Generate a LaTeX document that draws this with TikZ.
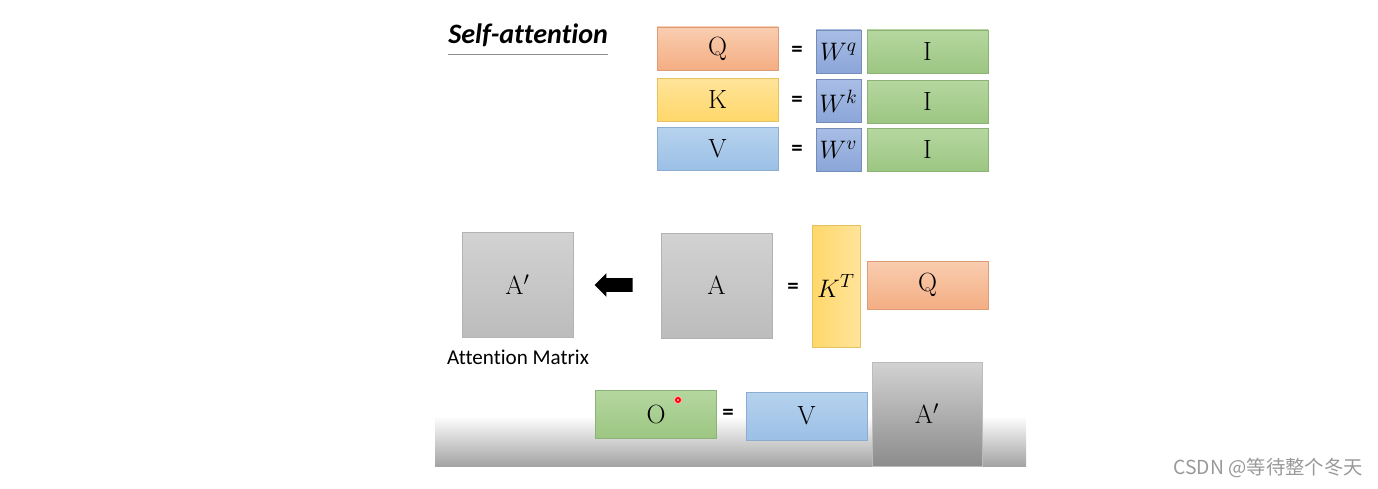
\documentclass[tikz,border=0pt]{standalone}
\usepackage{fontspec}
\newfontfamily\calibri[Ligatures=NoCommon]{Carlito}
\newfontfamily\cjk{Noto Sans CJK SC}
\usetikzlibrary{shapes.arrows}
\definecolor{qtop}{HTML}{F9CDB0}
\definecolor{qbot}{HTML}{F4AE83}
\definecolor{ktop}{HTML}{FFE49A}
\definecolor{kbot}{HTML}{FFD76A}
\definecolor{vtop}{HTML}{B6D2EE}
\definecolor{vbot}{HTML}{9BC0E6}
\definecolor{wtop}{HTML}{A9BEE6}
\definecolor{wbot}{HTML}{8AA5D8}
\definecolor{itop}{HTML}{B5D7A0}
\definecolor{ibot}{HTML}{9CC682}
\definecolor{atop}{HTML}{D2D2D2}
\definecolor{abot}{HTML}{BCBCBC}
\begin{document}
\begin{tikzpicture}[x=0.02cm,y=-0.02cm]
        \tikzstyle{mat}=[inner sep=0pt,font=\fontsize{15}{18}\selectfont,line width=0.5pt]
        \tikzstyle{wide}=[mat,minimum width=2.42cm,minimum height=0.86cm]
        \tikzstyle{wmat}=[mat,minimum width=0.9cm,minimum height=0.86cm,top color=wtop,bottom color=wbot,draw=wbot!85!black]
        \tikzstyle{sq}=[mat,minimum width=2.22cm,minimum height=2.1cm,top color=atop,bottom color=abot,draw=abot!95!black]
        \tikzstyle{eq}=[font=\calibri\bfseries\fontsize{13}{15}\selectfont,inner sep=0pt]
        \tikzstyle{qbox}=[top color=qtop,bottom color=qbot,draw=qbot!90!black]
        \tikzstyle{kbox}=[top color=ktop,bottom color=kbot,draw=kbot!90!black]
        \tikzstyle{vbox}=[top color=vtop,bottom color=vbot,draw=vbot!90!black]
        \tikzstyle{ibox}=[top color=itop,bottom color=ibot,draw=ibot!90!black]
        \useasboundingbox (0,0) rectangle (1378,489);
        % slide floor
        \shade[top color=white,bottom color=black!36] (435,416) rectangle (1026,466);
        % title
        \node [font=\calibri\bfseries\itshape\fontsize{16}{19}\selectfont,inner sep=0pt,anchor=base west] (title) at (448,44) {Self-attention};
        \draw [black!45,line width=1pt] ([yshift=-6pt]title.base west) -- ([yshift=-6pt]title.base east);
        % Q, K, V
        \node [wide,qbox] (q) at (717.5,48.5) {Q};
        \node [wide,kbox] (k) at (717.5,99.5) {K};
        \node [wide,vbox] (v) at (717.5,149) {V};
        \node [eq] (eq1) at (797,51) {=};
        \node [eq] (eq2) at (797,101) {=};
        \node [eq] (eq3) at (797,150) {=};
        \node [wmat] (wq) at (838.5,51.5) {$W^q$};
        \node [wmat] (wk) at (838.5,101) {$W^k$};
        \node [wmat] (wv) at (838.5,149.5) {$W^v$};
        \node [wide,ibox] (i1) at (927.5,51.5) {I};
        \node [wide,ibox] (i2) at (927.5,101.5) {I};
        \node [wide,ibox] (i3) at (927.5,150) {I};
        % attention matrix
        \node [sq] (ap) at (517.5,285) {A$'$};
        \node [font=\calibri\fontsize{12}{14}\selectfont,inner sep=0pt] (caption) at (518,357) {Attention Matrix};
        \node [single arrow,fill=black,inner xsep=0pt,inner ysep=0.13cm,minimum height=0.76cm,single arrow head extend=0.1cm,single arrow head indent=0cm,shape border rotate=180] (larrow) at (617,285) {};
        \node [sq] (a) at (716.5,285.5) {A};
        \node [eq] (eq4) at (793,288) {=};
        \node [mat,minimum width=0.96cm,minimum height=2.44cm,left color=kbot,right color=ktop,draw=kbot!90!black] (kt) at (836,286) {$K^T$};
        \node [mat,qbox,minimum width=2.42cm,minimum height=0.96cm] (q2) at (927.5,285) {Q};
        % output
        \node [mat,ibox,minimum width=2.42cm,minimum height=0.96cm] (o) at (656,414) {O};
        \fill [red!30] (678,400) circle (4.2);
        \fill [red] (678,400) circle (3);
        \fill [red!25] (678,400) circle (1.2);
        \node [eq] (eq5) at (728,414) {=};
        \node [mat,vbox,minimum width=2.42cm,minimum height=0.96cm] (v2) at (806.5,416) {V};
        \begin{scope}
                \clip (860,355) rectangle (1000,466);
                \node [mat,minimum width=2.2cm,minimum height=2.08cm,top color=atop,bottom color=black!45,draw=abot] (ap2) at (927,414) {};
        \end{scope}
        \node [font=\fontsize{15}{18}\selectfont,inner sep=0pt] (ap2lbl) at (927,414) {A$'$};
        % watermark
        \node [font=\cjk\fontsize{11}{13}\selectfont,text=black!40,inner sep=0pt,anchor=east] (mark) at (1363,468) {CSDN @等待整个冬天};
\end{tikzpicture}
\end{document}
